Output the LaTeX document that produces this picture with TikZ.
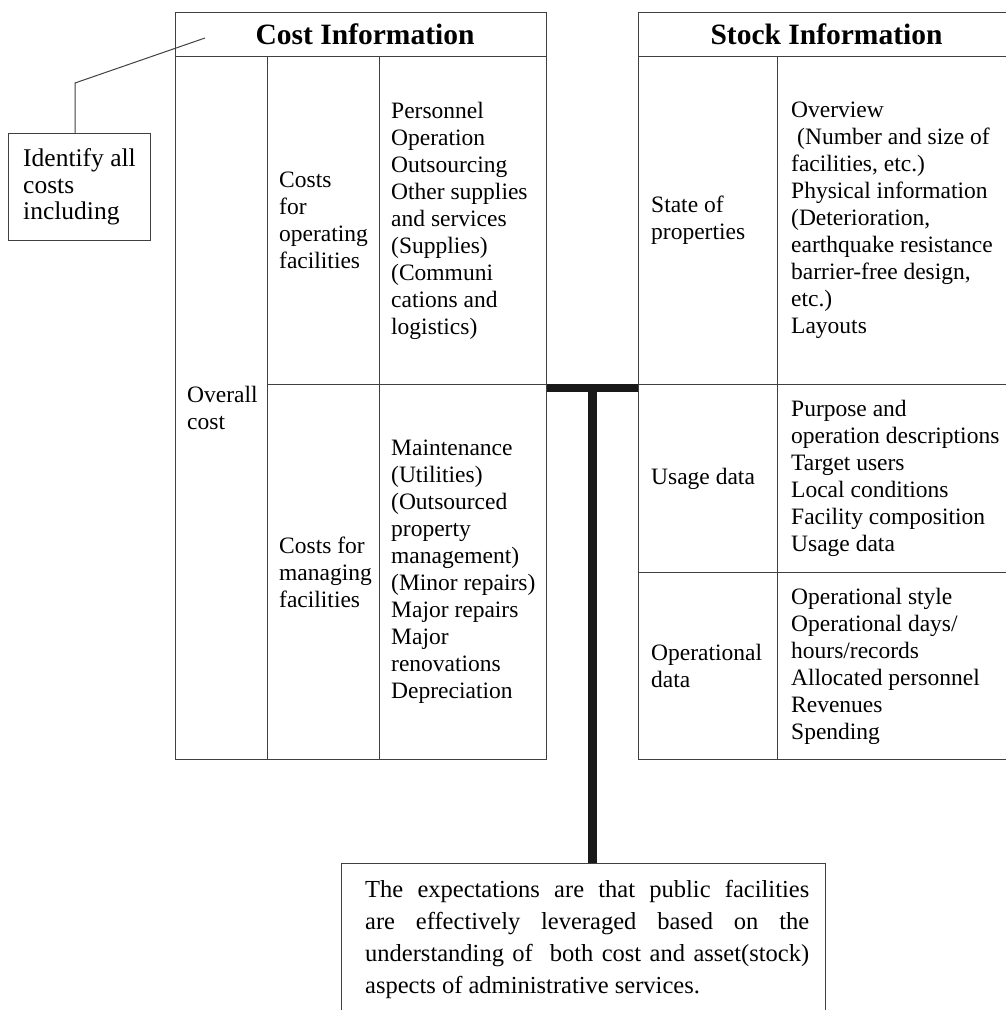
\documentclass[tikz,border=0pt]{standalone}
\usepackage{fontspec}
\setmainfont{Liberation Serif}
\usetikzlibrary{calc}
\begin{document}
\begin{tikzpicture}[x=1pt,y=-1pt,
  linec/.style={draw=black!75, line width=1.1pt},
  cell/.style={linec, anchor=north west, inner sep=0pt, minimum width=#1},
  txt/.style={anchor=west, align=left, inner sep=0pt, font=\fontsize{23.5}{27}\selectfont},
  headtxt/.style={inner sep=0pt, font=\fontsize{29.5}{32}\selectfont\bfseries},
  tbar/.style={draw=black!90, line width=8pt},
  tstem/.style={draw=black!90, line width=9pt}
]
\useasboundingbox (0,0) rectangle (1005,1010);

% ---- Cost information ----
\node[cell=371pt, minimum height=44pt] (costhead) at (175,12) {};
\node[cell=92pt,  minimum height=703pt] (c1)  at (175,56) {};
\node[cell=112pt, minimum height=328pt] (c2a) at (267,56) {};
\node[cell=167pt, minimum height=328pt] (c3a) at (379,56) {};
\node[cell=112pt, minimum height=375pt] (c2b) at (267,384) {};
\node[cell=167pt, minimum height=375pt] (c3b) at (379,384) {};

\node[headtxt] (costtitle) at ($(costhead.center)+(4,0)$) {Cost Information};
\node[txt] (t1)  at ($(c1.west)+(12,0)$)  {Overall\\cost};
\node[txt] (t2a) at ($(c2a.west)+(12,0)$) {Costs\\for\\operating\\facilities};
\node[txt] (t3a) at ($(c3a.west)+(12,0)$) {Personnel\\Operation\\Outsourcing\\Other supplies\\and services\\(Supplies)\\(Communi\\cations and\\logistics)};
\node[txt] (t2b) at ($(c2b.west)+(12,0)$) {Costs for\\managing\\facilities};
\node[txt] (t3b) at ($(c3b.west)+(12,0)$) {Maintenance\\(Utilities)\\(Outsourced\\property\\management)\\(Minor repairs)\\Major repairs\\Major\\renovations\\Depreciation};

% ---- Stock information ----
\node[cell=370pt, minimum height=44pt] (stockhead) at (638,12) {};
\node[cell=139pt, minimum height=328pt] (s1a) at (638,56) {};
\node[cell=231pt, minimum height=328pt] (s2a) at (777,56) {};
\node[cell=139pt, minimum height=188pt] (s1b) at (638,384) {};
\node[cell=231pt, minimum height=188pt] (s2b) at (777,384) {};
\node[cell=139pt, minimum height=187pt] (s1c) at (638,572) {};
\node[cell=231pt, minimum height=187pt] (s2c) at (777,572) {};

\node[headtxt] (stocktitle) at (826.5,34) {Stock Information};
\node[txt] (u1a) at ($(s1a.west)+(13,0)$) {State of\\properties};
\node[txt] (u2a) at ($(s2a.west)+(14,0)$) {Overview\\\hspace*{6pt}(Number and size of\\facilities, etc.)\\Physical information\\(Deterioration,\\earthquake resistance\\barrier-free design,\\etc.)\\Layouts};
\node[txt] (u1b) at ($(s1b.west)+(13,0)$) {Usage data};
\node[txt] (u2b) at ($(s2b.west)+(14,0)$) {Purpose and\\operation descriptions\\Target users\\Local conditions\\Facility composition\\Usage data};
\node[txt] (u1c) at ($(s1c.west)+(13,0)$) {Operational\\data};
\node[txt] (u2c) at ($(s2c.west)+(14,0)$) {Operational style\\Operational days/\\hours/records\\Allocated personnel\\Revenues\\Spending};

% ---- Identify box and callout ----
\node[cell=142pt, minimum height=107pt] (ident) at (8,133) {};
\node[anchor=west, align=left, inner sep=0pt, font=\fontsize{25.5}{26.5}\selectfont] (identtxt) at ($(ident.west)+(15,0)$) {Identify all\\costs\\including};
\coordinate (callbend) at (75,83);
\coordinate (callend) at (205,38);
\draw[linec, line width=1pt] (ident.north -| callbend) -- (callbend) -- (callend);

% ---- Bottom box ----
\node[cell=484pt, minimum height=170pt] (bottom) at (341,863) {};
\node[anchor=north west, inner sep=0pt] (bottomtxt) at (365,880)
 {\parbox[t]{444pt}{\fontsize{24.5}{32}\selectfont\parindent=0pt
  The expectations are that public facilities\linebreak
  are effectively leveraged based on the\linebreak
  understanding of\ \ both cost and asset(stock)\linebreak
  aspects of administrative services.}};

% ---- T connector ----
\coordinate (tj) at (592.5,387);
\draw[tbar] ([yshift=-3pt]c3a.south east) -- ([yshift=-3pt]s1a.south west);
\draw[tstem] (tj) -- (bottom.north -| tj);
\end{tikzpicture}
\end{document}
